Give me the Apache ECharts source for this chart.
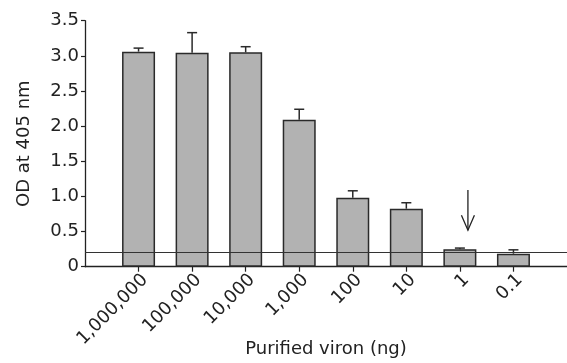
<!DOCTYPE html>
<html><head><meta charset="utf-8">
<script src="https://cdn.jsdelivr.net/npm/echarts@6/dist/echarts.min.js"></script>
<style>html,body{margin:0;padding:0;background:#fff}#c{width:567px;height:363px}</style>
</head><body><div id="c"></div>
<script>
const categories = ['1,000,000','100,000','10,000','1,000','100','10','1','0.1'];
const values = [3.06, 3.045, 3.05, 2.09, 0.98, 0.825, 0.25, 0.185];
const errUpper = [3.11, 3.33, 3.13, 2.24, 1.08, 0.91, 0.265, 0.24];
const cutoff = [0.205];
const yTicks = [0, 0.5, 1.0, 1.5, 2.0, 2.5, 3.0, 3.5];
const arrowInfo = {category: '1', shift: 0.15, from: 1.09, to: 0.52};

const cats = [''].concat(categories, ['']);
const barData = [null].concat(values, [null]);
const errData = categories.map((c, i) => [i + 1, values[i], errUpper[i]]);

const FONT = '"DejaVu Sans", sans-serif';
const INK = '#222';
const chart = echarts.init(document.getElementById('c'), null, {renderer: 'canvas'});
chart.setOption({
  animation: false,
  grid: {left: 85, right: 0, top: 20.7, bottom: 96.3, containLabel: false, outerBoundsMode: 'none'},
  xAxis: {
    type: 'category', data: cats, boundaryGap: false,
    axisLine: {lineStyle: {color: INK, width: 1.3}},
    axisTick: {length: 5, lineStyle: {color: INK, width: 1.2}, interval: (i) => i > 0 && i < cats.length - 1},
    axisLabel: {interval: 0, rotate: 45, margin: 4, verticalAlign: 'top', fontSize: 18, fontFamily: FONT, color: INK},
    name: 'Purified viron (ng)', nameLocation: 'middle', nameGap: 74, nameMoveOverlap: false,
    nameTextStyle: {fontSize: 18, fontFamily: FONT, color: INK}
  },
  yAxis: {
    type: 'value', min: 0, max: 3.5, interval: 0.5,
    splitLine: {show: false},
    axisLine: {show: true, lineStyle: {color: INK, width: 1.3}},
    axisTick: {show: true, length: 4, lineStyle: {color: INK, width: 1.2}},
    axisLabel: {margin: 6, fontSize: 18, fontFamily: FONT, color: INK,
      formatter: (v) => v === 0 ? '0' : v.toFixed(1)},
    name: 'OD at 405 nm', nameLocation: 'middle', nameGap: 52, nameRotate: 90, nameMoveOverlap: false,
    nameTextStyle: {fontSize: 18, fontFamily: FONT, color: INK}
  },
  series: [
    {
      type: 'bar', data: barData, barWidth: 33,
      itemStyle: {color: '#b2b2b2', borderColor: '#2a2a2a', borderWidth: 1.5},
      markLine: {
        silent: true, symbol: 'none', label: {show: false},
        lineStyle: {color: '#333', width: 1.2, type: 'solid'},
        data: cutoff.map(v => ({yAxis: v}))
      },
      z: 2
    },
    {
      type: 'custom', data: errData, z: 3,
      renderItem: function (params, api) {
        const x = api.coord([api.value(0), api.value(1)]);
        const t = api.coord([api.value(0), api.value(2)]);
        const cap = 5;
        return {type: 'group', children: [
          {type: 'line', shape: {x1: x[0], y1: x[1], x2: t[0], y2: t[1]}, style: {stroke: '#2a2a2a', lineWidth: 1.5}},
          {type: 'line', shape: {x1: t[0] - cap, y1: t[1], x2: t[0] + cap, y2: t[1]}, style: {stroke: '#2a2a2a', lineWidth: 1.5}}
        ]};
      }
    }
  ]
});

// annotation arrow above the "1" bar
(function () {
  const idx = cats.indexOf(arrowInfo.category);
  const p0 = chart.convertToPixel({gridIndex: 0}, [idx, arrowInfo.from]);
  const p1 = chart.convertToPixel({gridIndex: 0}, [idx, arrowInfo.to]);
  const pn = chart.convertToPixel({gridIndex: 0}, [idx + 1, arrowInfo.to]);
  const x = p0[0] + (pn[0] - p0[0]) * arrowInfo.shift;
  const hl = 15, hw = 6.5;
  chart.setOption({graphic: [{type: 'group', children: [
    {type: 'line', shape: {x1: x, y1: p0[1], x2: x, y2: p1[1]}, style: {stroke: INK, lineWidth: 1.3}},
    {type: 'polyline', shape: {points: [[x - hw, p1[1] - hl], [x, p1[1]], [x + hw, p1[1] - hl]]}, style: {stroke: INK, lineWidth: 1.3, fill: null}}
  ]}]});
})();
</script>
</body></html>
